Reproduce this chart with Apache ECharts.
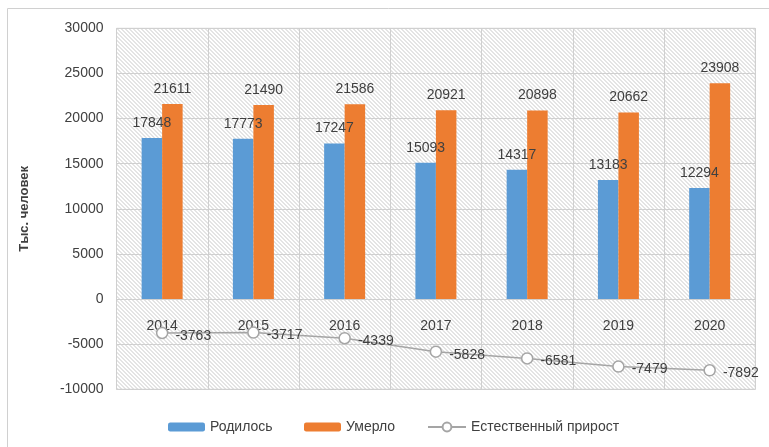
<!DOCTYPE html>
<html>
<head>
<meta charset="utf-8">
<script src="https://cdn.jsdelivr.net/npm/echarts@6/dist/echarts.min.js"></script>
<style>
html,body{margin:0;padding:0;background:#fff;}
#c{width:769px;height:447px;}
</style>
</head>
<body>
<div id="c"></div>
<script>
const years = ['2014','2015','2016','2017','2018','2019','2020'];
const born = [17848, 17773, 17247, 15093, 14317, 13183, 12294];
const died = [21611, 21490, 21586, 20921, 20898, 20662, 23908];
const growth = [-3763, -3717, -4339, -5828, -6581, -7479, -7892];
const yTicks = {min: -10000, max: 30000, interval: 5000};

const pc = document.createElement('canvas');
pc.width = 8; pc.height = 8;
const ctx = pc.getContext('2d');
ctx.fillStyle = '#ffffff';
ctx.fillRect(0, 0, 8, 8);
ctx.fillStyle = '#e4e4e4';
for (let y = 0; y < 8; y++) {
  for (let x = 0; x < 8; x++) {
    const m = ((x - y) % 4 + 4) % 4;
    if (m === 0 || m === 1) ctx.fillRect(x, y, 1, 1);
  }
}

const font = 'Liberation Sans, Arial, sans-serif';
const txt = '#404040';
const gridC = '#d0d0d0';

const chart = echarts.init(document.getElementById('c'), null, {renderer: 'canvas'});
chart.setOption({
  animation: false,
  textStyle: {fontFamily: font},
  graphic: [{
    type: 'rect', shape: {x: 7.5, y: 8.5, width: 800, height: 500},
    style: {fill: 'none', stroke: '#d0d0d0', lineWidth: 1}, z: -10
  }],
  grid: {
    left: 116.5, top: 28.3, right: 13.7, bottom: 57.7,
    show: true, backgroundColor: {image: pc, repeat: 'repeat'},
    borderColor: gridC, borderWidth: 1
  },
  legend: [
    {data: ['Родилось'], left: 163, top: 415, itemWidth: 37, itemHeight: 9, itemGap: 0,
     textStyle: {fontSize: 14, color: txt, fontFamily: font}},
    {data: ['Умерло'], left: 299, top: 415, itemWidth: 37, itemHeight: 9, itemGap: 0,
     textStyle: {fontSize: 14, color: txt, fontFamily: font}},
    {data: ['Естественный прирост'], left: 422, top: 415, itemWidth: 38, itemHeight: 11, itemGap: 0,
     textStyle: {fontSize: 14, color: txt, fontFamily: font}}
  ],
  xAxis: {
    type: 'category', data: years,
    axisLine: {show: false},
    axisTick: {show: false},
    axisLabel: {show: false},
    splitLine: {show: true, lineStyle: {color: gridC}}
  },
  yAxis: {
    type: 'value', min: yTicks.min, max: yTicks.max, interval: yTicks.interval,
    name: 'Тыс. человек', nameLocation: 'middle', nameGap: 86,
    nameTextStyle: {fontSize: 13, fontWeight: 'bold', color: txt, fontFamily: font},
    axisLine: {show: false}, axisTick: {show: false},
    axisLabel: {margin: 13, fontSize: 14, color: txt, fontFamily: font,
                formatter: function (v) { return String(v); }},
    splitLine: {lineStyle: {color: gridC}}
  },
  series: [
    {name: 'Родилось', type: 'bar', data: born, barWidth: 20.5, barGap: '0%',
     itemStyle: {color: '#5b9bd5'},
     label: {show: true, position: 'top', distance: 8, fontSize: 14, color: txt, fontFamily: font}},
    {name: 'Умерло', type: 'bar', data: died, barWidth: 20.5, barGap: '0%',
     itemStyle: {color: '#ed7d31'},
     label: {show: true, position: 'top', distance: 8, fontSize: 14, color: txt, fontFamily: font}},
    {name: 'axisLabels', type: 'scatter', data: years.map(function (y) { return [y, 0]; }),
     symbol: 'circle', symbolSize: 0.01, itemStyle: {color: '#d0d0d0', opacity: 1},
     silent: true, legendHoverLink: false,
     label: {show: true, position: 'bottom', distance: 20, fontSize: 14, color: txt, opacity: 1,
             fontFamily: font, formatter: function (p) { return years[p.dataIndex]; }},
     z: 4},
    {name: 'Естественный прирост', type: 'line', data: growth,
     symbol: 'circle', symbolSize: 11, showAllSymbol: true,
     lineStyle: {color: '#a5a5a5', width: 1.5},
     itemStyle: {color: '#ffffff', borderColor: '#a5a5a5', borderWidth: 1.5},
     label: {show: true, position: 'right', distance: 7, fontSize: 14, color: txt, fontFamily: font,
             offset: [0, 3]},
     z: 5}
  ]
});
</script>
</body>
</html>
